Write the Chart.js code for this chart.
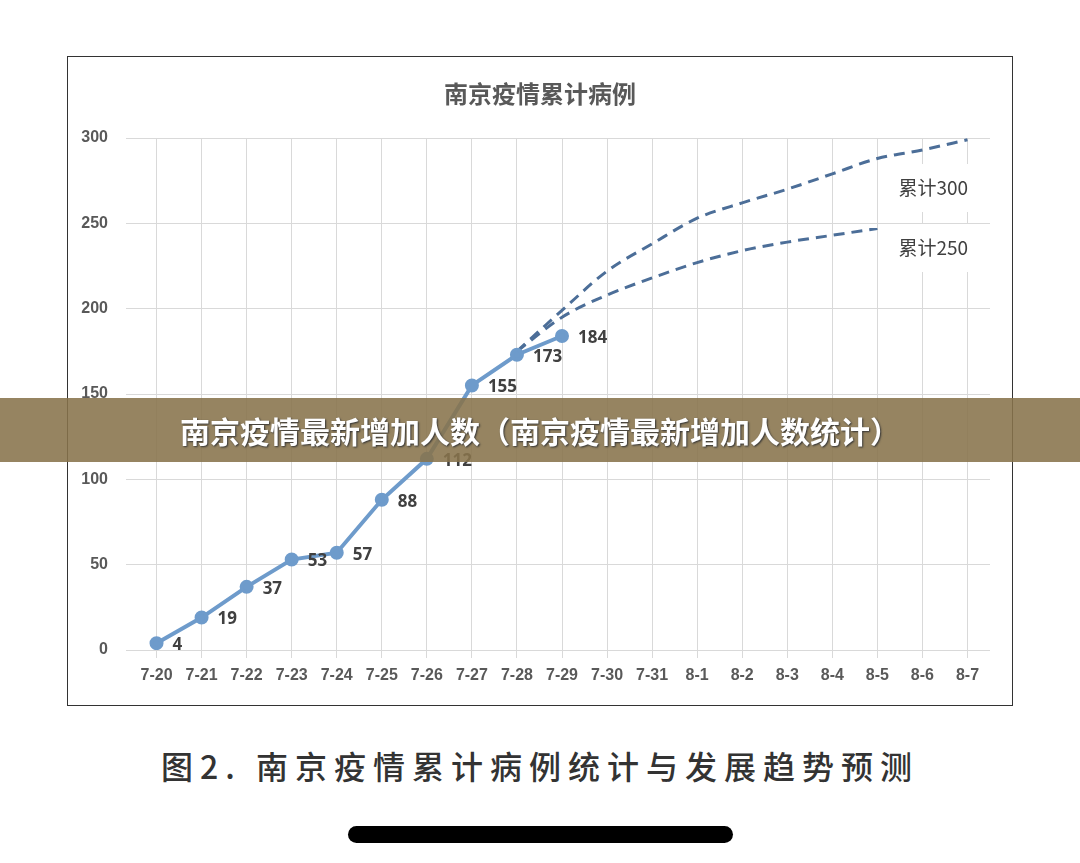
<!DOCTYPE html>
<html><head><meta charset="utf-8">
<script src="https://cdn.jsdelivr.net/npm/chart.js@4"></script>
<style>
body{margin:0;width:1080px;height:863px;background:#fff;position:relative;overflow:hidden;font-family:"Noto Sans CJK SC",sans-serif}
#box{position:absolute;left:67px;top:56px;width:944px;height:648px;border:1.5px solid #333;}
#wrap{position:absolute;left:0;top:0;width:944px;height:648px}
#title{position:absolute;left:0;width:944px;top:18px;text-align:center;font-size:24px;color:#595959;font-weight:bold}
#banner{position:absolute;left:0;top:398px;width:1080px;height:64px;background:rgba(135,115,75,0.88);color:#fff;font-weight:bold;font-size:30px;text-align:center;line-height:64px;text-shadow:1px 1px 2px #333}
#cap{position:absolute;left:0;width:1080px;top:742px;text-align:center;font-size:32px;color:#333;letter-spacing:7px;font-weight:500}
#pill{position:absolute;left:348px;top:826px;width:385px;height:17px;border-radius:9px;background:#000}
</style></head><body>
<div id="box"><div id="wrap"><canvas id="c"></canvas></div><div id="title">南京疫情累计病例</div></div>
<div id="banner">南京疫情最新增加人数（南京疫情最新增加人数统计）</div>
<div id="cap">图2. 南京疫情累计病例统计与发展趋势预测</div>
<div id="pill"></div>
<script>
const categories=["7-20","7-21","7-22","7-23","7-24","7-25","7-26","7-27","7-28","7-29","7-30","7-31","8-1","8-2","8-3","8-4","8-5","8-6","8-7"];
const actual=[4,19,37,53,57,88,112,155,173,184,null,null,null,null,null,null,null,null,null];
const forecast300=[null,null,null,null,null,null,null,null,175,199,222,238,253,262,270,279,288,293,299];
const forecast250=[null,null,null,null,null,null,null,null,175,195,208,218,227,234,239,243,247,null,null];
const yTicks=[0,50,100,150,200,250,300];
const forecastLabels=["累计300","累计250"];

const deco={id:'deco',afterDatasetsDraw(ch){
  const c=ch.ctx,m=ch.getDatasetMeta(0);
  c.save();c.font='bold 17px "Open Sans",sans-serif';c.fillStyle='#404040';c.textBaseline='middle';
  m.data.forEach((p,i)=>{if(actual[i]==null)return;c.fillText(String(actual[i]),p.x+16,p.y+2);});
  const x=ch.scales.x;
  c.font='19px "Noto Sans CJK SC",sans-serif';
  [[forecastLabels[0],187],[forecastLabels[1],247]].forEach(([t,py])=>{
    const cx=x.getPixelForValue(17), yy=py-56;
    c.fillStyle='#fff';c.fillRect(cx-38,yy-24,105,48);
    c.fillStyle='#404040';c.textAlign='left';c.fillText(t,cx-24,yy);
  });
  c.restore();
}};
new Chart(document.getElementById('c'),{
  type:'line',
  data:{labels:categories,datasets:[
    {data:actual,borderColor:'#6E9BCB',backgroundColor:'#6E9BCB',borderWidth:4,pointRadius:5,pointBackgroundColor:'#6E9BCB',tension:0},
    {data:forecast300,borderColor:'#4C6E98',borderWidth:3,borderDash:[11,7],pointRadius:0,cubicInterpolationMode:'monotone'},
    {data:forecast250,borderColor:'#4C6E98',borderWidth:3,borderDash:[11,7],pointRadius:0,cubicInterpolationMode:'monotone'}
  ]},
  plugins:[deco],
  options:{responsive:true,maintainAspectRatio:false,animation:false,
    layout:{padding:{left:0,right:22,top:81,bottom:0}},
    plugins:{legend:{display:false},tooltip:{enabled:false}},
    scales:{
      x:{offset:true,grid:{color:'#d9d9d9',offset:false},border:{display:false},
        ticks:{color:'#595959',font:{size:16,weight:'bold'},maxRotation:0,autoSkip:false,padding:8},
        afterFit(s){s.height=55;}},
      y:{min:0,max:300,afterBuildTicks(s){s.ticks=yTicks.map(v=>({value:v}));},
        grid:{color:'#d9d9d9'},border:{display:false},
        ticks:{color:'#595959',font:{size:16,weight:'bold'},padding:18},
        afterFit(s){s.width=66;}}
    }}
});
</script></body></html>
